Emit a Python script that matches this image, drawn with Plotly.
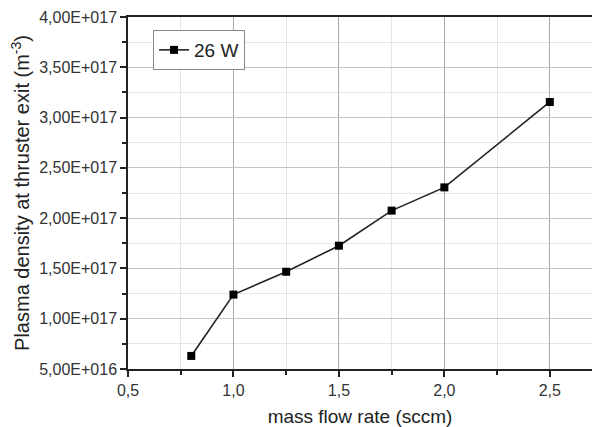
import plotly.graph_objects as go

flow = [0.8, 1.0, 1.25, 1.5, 1.75, 2.0, 2.5]
density = [6.3e16, 1.24e17, 1.467e17, 1.726e17, 2.075e17, 2.306e17, 3.155e17]
series_name = "26 W"

x_ticks = [0.5, 1.0, 1.5, 2.0, 2.5]
x_ticktext = ["0,5", "1,0", "1,5", "2,0", "2,5"]
y_ticks = [5e16, 1e17, 1.5e17, 2e17, 2.5e17, 3e17, 3.5e17, 4e17]
y_ticktext = ["5,00E+016", "1,00E+017", "1,50E+017", "2,00E+017",
              "2,50E+017", "3,00E+017", "3,50E+017", "4,00E+017"]

fig = go.Figure()
fig.add_trace(go.Scatter(
    x=flow, y=density, mode="lines+markers", name=series_name,
    line=dict(color="#222222", width=1.6),
    marker=dict(symbol="square", size=8, color="black"),
))

font = "Liberation Sans, Arial, sans-serif"
fig.update_layout(
    width=596, height=427,
    margin=dict(l=128, r=4, t=17, b=58),
    paper_bgcolor="white", plot_bgcolor="white",
    font=dict(family=font, color="#333333"),
    showlegend=True,
    legend=dict(x=0.054, y=0.963, xanchor="left", yanchor="top",
                bordercolor="#888888", borderwidth=1, bgcolor="white",
                font=dict(size=19, color="#222222"),
                tracegroupgap=0),
)
fig.update_xaxes(
    range=[0.5, 2.7], tickvals=x_ticks, ticktext=x_ticktext,
    showline=True, linecolor="#222222", linewidth=1.5, mirror=True,
    ticks="outside", ticklen=6, tickcolor="#222222", tickwidth=1.5,
    showgrid=True, gridcolor="#aaaaaa", gridwidth=1,
    tickfont=dict(size=16, color="#333333"),
    title=dict(text="mass flow rate (sccm)", font=dict(size=19, color="#222222")),
    automargin=False,
    zeroline=False,
    minor=dict(tickvals=[0.75, 1.25, 1.75, 2.25], ticks="outside", ticklen=4,
               tickcolor="#222222", showgrid=True, gridcolor="#e6e6e6", gridwidth=1),
)
fig.update_yaxes(
    range=[5e16, 4e17], tickvals=y_ticks, ticktext=y_ticktext,
    showline=True, linecolor="#222222", linewidth=1.5, mirror=False,
    ticks="outside", ticklen=6, tickcolor="#222222", tickwidth=1.5,
    showgrid=True, gridcolor="#c4c4c4", gridwidth=1,
    tickfont=dict(size=16, color="#333333"),
    title=dict(text="Plasma density at thruster exit (m<sup>-3</sup>)",
               font=dict(size=20, color="#222222"), standoff=4),
    zeroline=False,
    minor=dict(tickvals=[7.5e16, 1.25e17, 1.75e17, 2.25e17, 2.75e17, 3.25e17, 3.75e17],
               ticks="outside", ticklen=4, tickcolor="#222222",
               showgrid=True, gridcolor="#e6e6e6", gridwidth=1),
)

fig.write_html("out.html")
